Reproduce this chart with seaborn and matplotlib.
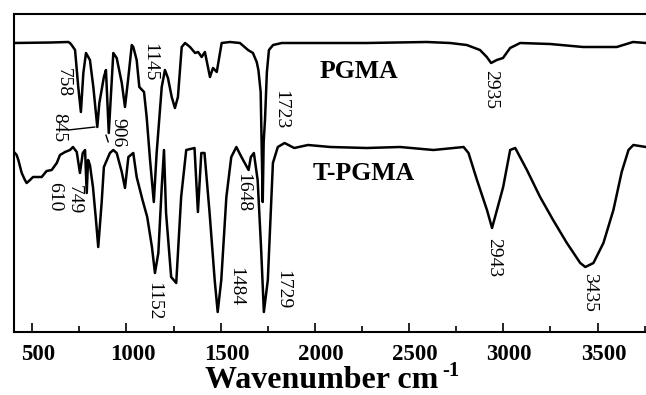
import matplotlib
matplotlib.use("Agg")
import matplotlib.pyplot as plt
import matplotlib.transforms as mtransforms
from matplotlib.ticker import MultipleLocator
import seaborn as sns
import pandas as pd

# ---------------- data ----------------
pgma_wn = [403, 600, 691, 700, 709, 727, 744, 758, 771, 785,
           806, 824, 845, 856, 880, 891, 906, 930, 948, 975,
           992, 1010, 1028, 1036, 1054, 1068, 1093, 1107, 1125, 1145,
           1160, 1187, 1204, 1220, 1240, 1257, 1273, 1293, 1311, 1337,
           1364, 1380, 1399, 1416, 1443, 1459, 1479, 1505, 1549, 1602,
           1645, 1671, 1691, 1700, 1712, 1718, 1723, 1728, 1735, 1745,
           1756, 1778, 1824, 1921, 2275, 2594, 2717, 2806, 2876, 2912,
           2935, 2965, 2998, 3036, 3089, 3248, 3423, 3602, 3688, 3757]
pgma_t = [289, 289.5, 290, 289, 287, 282, 245, 220, 259, 279,
          272, 245, 205, 229, 255, 262, 199, 279, 274, 249,
          225, 255, 287, 285, 272, 245, 240, 215, 172, 130,
          179, 245, 262, 254, 235, 224, 235, 285, 289, 285,
          279, 280, 275, 280, 255, 264, 260, 289, 290, 289,
          282, 279, 270, 262, 240, 180, 130, 190, 212, 260,
          282, 287, 289, 289, 289, 290, 289, 287, 282, 275,
          269, 272, 274, 284, 289, 288, 285, 285, 290, 289]

tpgma_wn = [403, 417, 426, 444, 461, 470, 488, 504, 523, 550,
            576, 603, 630, 647, 674, 700, 716, 736, 753, 768,
            780, 789, 796, 806, 822, 838, 850, 868, 880, 912,
            930, 948, 975, 992, 1010, 1036, 1054, 1085, 1110, 1135,
            1151, 1169, 1187, 1199, 1210, 1237, 1264, 1290, 1317, 1361,
            1379, 1397, 1414, 1441, 1468, 1484, 1503, 1530, 1556, 1583,
            1610, 1648, 1660, 1676, 1696, 1714, 1729, 1750, 1777, 1803,
            1839, 1890, 1963, 2082, 2275, 2452, 2629, 2789, 2815, 2860,
            2913, 2940, 2966, 2999, 3036, 3063, 3125, 3195, 3264, 3337,
            3408, 3435, 3478, 3531, 3584, 3628, 3664, 3690, 3757]
tpgma_t = [180, 177, 172, 159, 152, 149, 152, 155, 155, 155,
           161, 162, 169, 177, 180, 182, 185, 180, 159, 179,
           182, 139, 172, 167, 145, 112, 85, 129, 165, 179,
           182, 179, 160, 144, 175, 179, 155, 132, 115, 85,
           59, 79, 145, 182, 119, 55, 49, 135, 182, 184,
           120, 179, 179, 119, 52, 20, 52, 135, 175, 185,
           175, 162, 175, 179, 152, 85, 20, 52, 169, 185,
           189, 184, 187, 185, 184, 185, 182, 185, 179, 152,
           122, 104, 122, 145, 182, 184, 162, 135, 112, 89,
           69, 65, 69, 89, 122, 160, 182, 187, 185]

x_ticks = [500, 1000, 1500, 2000, 2500, 3000, 3500]

# peak annotations: (text, label x, label y)
peak_labels = [("758", 664, 249), ("845", 641, 204), ("906", 955, 199.5),
               ("1145", 1125, 270), ("1723", 1820, 222), ("2935", 2935, 243),
               ("610", 620, 135), ("749", 721, 132), ("1648", 1616, 139),
               ("1152", 1146, 30.5), ("1484", 1581, 45), ("1729", 1828, 42),
               ("2943", 2951, 74), ("3435", 3455, 39.5)]
series_labels = [("PGMA", 2027, 253.7), ("T-PGMA", 1990, 152)]

# ---------------- figure ----------------
sns.set_style("ticks")
plt.rcParams["font.family"] = ["Liberation Serif", "DejaVu Serif"]
plt.rcParams["text.color"] = "black"
plt.rcParams["xtick.color"] = "black"
plt.rcParams["xtick.labelcolor"] = "black"
plt.rcParams["axes.edgecolor"] = "black"

W, H = 646, 395
fig = plt.figure(figsize=(W / 100, H / 100), dpi=100)
ax = fig.add_axes([14 / W, 1 - 332 / H, 1 - 14 / W, (332 - 14) / H])

df1 = pd.DataFrame({"wn": pgma_wn, "T": pgma_t})
df2 = pd.DataFrame({"wn": tpgma_wn, "T": tpgma_t})
sns.lineplot(data=df1, x="wn", y="T", ax=ax, color="black", lw=1.8,
             sort=False, estimator=None)
sns.lineplot(data=df2, x="wn", y="T", ax=ax, color="black", lw=1.8,
             sort=False, estimator=None)

ax.set_xlim(403, 3757)
ax.set_ylim(0, 318)
ax.set_xlabel("")
ax.set_ylabel("")
ax.set_yticks([])
ax.set_xticks(x_ticks)
ax.xaxis.set_minor_locator(MultipleLocator(250))
ax.tick_params(axis="x", which="major", direction="in", length=6.5, width=1.2,
               pad=8.5, labelsize=16.5, colors="black")
ax.tick_params(axis="x", which="minor", direction="in", length=4.3, width=1.2,
               colors="black")
ax.tick_params(axis="y", left=False)
for lab in ax.get_xticklabels():
    lab.set_fontweight("bold")
    lab.set_color("black")
    lab.set_transform(lab.get_transform() +
                      mtransforms.ScaledTranslation(0.06, 0, fig.dpi_scale_trans))

for side in ["top", "left", "bottom"]:
    ax.spines[side].set_linewidth(1.5)
    ax.spines[side].set_color("black")
ax.spines["right"].set_visible(False)

for txt, x, y in peak_labels:
    ax.text(x, y, txt, rotation=270, ha="center", va="center",
            fontsize=14, color="black")

# leader lines for 845 and 906
ax.plot([691, 833], [202, 205], color="black", lw=1.0)
ax.plot([891, 903], [197, 190], color="black", lw=1.0)

for txt, x, y in series_labels:
    ax.text(x, y, txt, ha="left", va="baseline", fontsize=18.5,
            fontweight="bold", color="black")

fig.text(205 / W, 1 - 388 / H, "Wavenumber cm", ha="left", va="baseline",
         fontsize=23, fontweight="bold", color="black")
fig.text(442 / W, 1 - 376 / H, "-1", ha="left", va="baseline",
         fontsize=15, fontweight="bold", color="black")

fig.savefig("out.png", dpi=100)
